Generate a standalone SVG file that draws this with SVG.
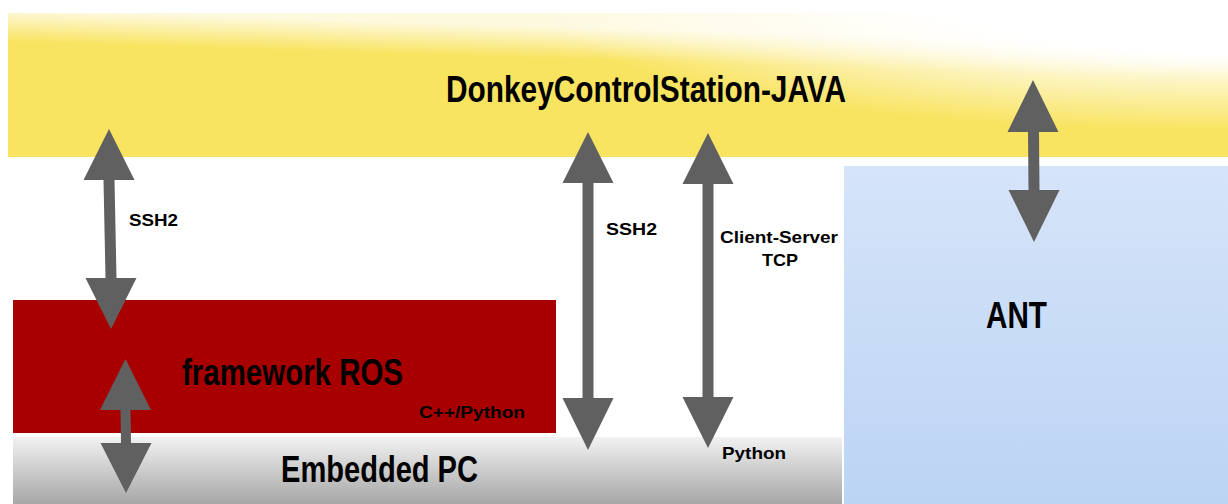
<svg xmlns="http://www.w3.org/2000/svg" width="1228" height="504" viewBox="0 0 1228 504">
<defs>
<linearGradient id="gw1" gradientUnits="userSpaceOnUse" x1="599.5" y1="60" x2="600.5" y2="28">
<stop offset="0" stop-color="#FFFFFF" stop-opacity="0"/>
<stop offset="1" stop-color="#FFFFFF" stop-opacity="0.8"/>
</linearGradient>
<radialGradient id="gw2" gradientUnits="userSpaceOnUse" cx="1228" cy="0" r="700" gradientTransform="translate(1228 0) scale(1 0.1857) translate(-1228 0)">
<stop offset="0" stop-color="#FFFFFF" stop-opacity="1"/>
<stop offset="0.4" stop-color="#FFFFFF" stop-opacity="1"/>
<stop offset="1" stop-color="#FFFFFF" stop-opacity="0"/>
</radialGradient>
<linearGradient id="gg" x1="0" y1="0" x2="0" y2="1">
<stop offset="0" stop-color="#F2F2F2"/>
<stop offset="1" stop-color="#A6A6A6"/>
</linearGradient>
<linearGradient id="gb" x1="0" y1="0" x2="0" y2="1">
<stop offset="0" stop-color="#D5E4F9"/>
<stop offset="1" stop-color="#BCD4F4"/>
</linearGradient>
</defs>
<style>
text{font-family:"Liberation Sans",Arial,sans-serif;font-weight:bold;fill:#000}
.big{font-size:36px}
.small{font-size:17px}
.arr{fill:#606060}
</style>
<rect width="1228" height="504" fill="#FFFFFF"/>
<g id="station">
<rect x="8" y="13" width="1220" height="144" fill="#F9E462"/>
<rect x="8" y="13" width="1220" height="144" fill="url(#gw1)"/>
<rect x="8" y="13" width="1220" height="144" fill="url(#gw2)"/>
<text class="big" x="446" y="102" textLength="400" lengthAdjust="spacingAndGlyphs">DonkeyControlStation-JAVA</text>
</g>
<g id="ant">
<rect x="844" y="166" width="384" height="338" fill="url(#gb)"/>
<text class="big" x="986" y="328" textLength="61" lengthAdjust="spacingAndGlyphs">ANT</text>
</g>
<g id="ros">
<rect x="13" y="300" width="543" height="133" fill="#A80000"/>
<text class="big" x="182" y="385" textLength="221" lengthAdjust="spacingAndGlyphs">framework ROS</text>
<text x="419" y="418" font-size="16" textLength="106" lengthAdjust="spacingAndGlyphs">C++/Python</text>
</g>
<g id="pc">
<rect x="13" y="437" width="829" height="67" fill="url(#gg)"/>
<text class="big" x="281" y="482" textLength="197" lengthAdjust="spacingAndGlyphs">Embedded PC</text>
</g>
<g id="connectors">
<polygon class="arr" points="109,129 134.5,180 114.5,180 116.5,278 136.5,278 111,329 85.5,278 105.5,278 103.5,180 83.5,180"/>
<polygon class="arr" points="125.5,359 151,410 130.5,410 131,443 151.5,443 126,493 100.5,443 121,443 120.5,410 100,410"/>
<polygon class="arr" points="588,132 613.5,183 593.5,183 593.5,398 613.5,398 588,450 562.5,398 582.5,398 582.5,183 562.5,183"/>
<polygon class="arr" points="708,133 733.5,184 713.5,184 713.5,397 733.5,397 708,448 682.5,397 702.5,397 702.5,184 682.5,184"/>
<polygon class="arr" points="1033,80 1058.5,132 1039,132 1039.5,190 1059.5,190 1034,242 1008.5,190 1028.5,190 1028,132 1007.5,132"/>
</g>
<g id="labels">
<text class="small" x="129" y="226" font-size="18" textLength="49" lengthAdjust="spacingAndGlyphs">SSH2</text>
<text class="small" x="606" y="235" font-size="18" textLength="51" lengthAdjust="spacingAndGlyphs">SSH2</text>
<text class="small" x="720" y="243" textLength="118" lengthAdjust="spacingAndGlyphs">Client-Server</text>
<text class="small" x="762" y="266" textLength="36" lengthAdjust="spacingAndGlyphs">TCP</text>
<text class="small" x="722" y="459" textLength="64" lengthAdjust="spacingAndGlyphs">Python</text>
</g>
</svg>
